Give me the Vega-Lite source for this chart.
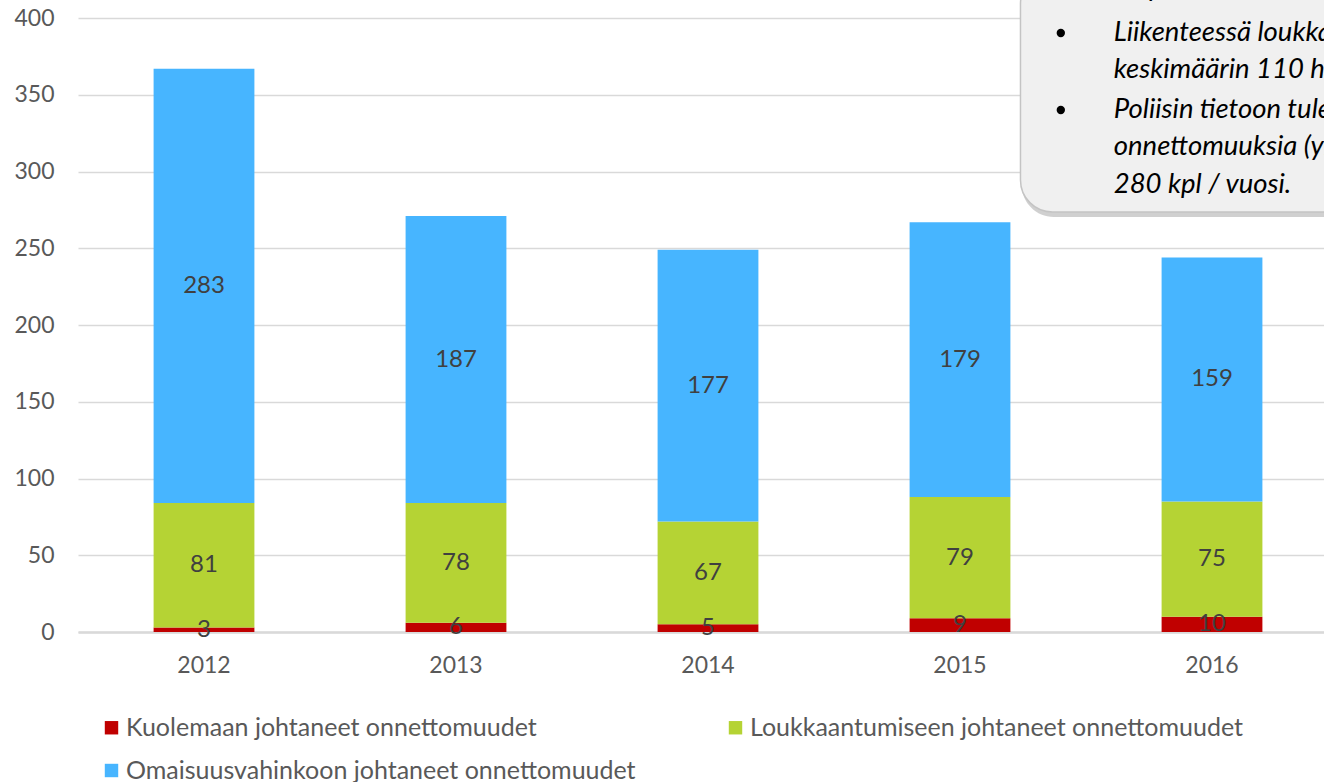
{
  "$schema": "https://vega.github.io/schema/vega-lite/v6.json",
  "autosize": "none",
  "width": 1260,
  "height": 614,
  "padding": {"left": 78, "top": 18, "right": 0, "bottom": 150},
  "background": "white",
  "config": {
    "font": "Lato",
    "view": {"stroke": null},
    "axis": {"labelFont": "Lato", "labelColor": "#595959", "labelFontSize": 23, "title": null}
  },
  "datasets": {
    "main": [
      {"year": "2012", "cat": "Kuolemaan johtaneet onnettomuudet", "v": 3},
      {"year": "2012", "cat": "Loukkaantumiseen johtaneet onnettomuudet", "v": 81},
      {"year": "2012", "cat": "Omaisuusvahinkoon johtaneet onnettomuudet", "v": 283},
      {"year": "2013", "cat": "Kuolemaan johtaneet onnettomuudet", "v": 6},
      {"year": "2013", "cat": "Loukkaantumiseen johtaneet onnettomuudet", "v": 78},
      {"year": "2013", "cat": "Omaisuusvahinkoon johtaneet onnettomuudet", "v": 187},
      {"year": "2014", "cat": "Kuolemaan johtaneet onnettomuudet", "v": 5},
      {"year": "2014", "cat": "Loukkaantumiseen johtaneet onnettomuudet", "v": 67},
      {"year": "2014", "cat": "Omaisuusvahinkoon johtaneet onnettomuudet", "v": 177},
      {"year": "2015", "cat": "Kuolemaan johtaneet onnettomuudet", "v": 9},
      {"year": "2015", "cat": "Loukkaantumiseen johtaneet onnettomuudet", "v": 79},
      {"year": "2015", "cat": "Omaisuusvahinkoon johtaneet onnettomuudet", "v": 179},
      {"year": "2016", "cat": "Kuolemaan johtaneet onnettomuudet", "v": 10},
      {"year": "2016", "cat": "Loukkaantumiseen johtaneet onnettomuudet", "v": 75},
      {"year": "2016", "cat": "Omaisuusvahinkoon johtaneet onnettomuudet", "v": 159}
    ],
    "box": [
      {"x": 2015.24, "x2": 2016.8, "y": 430, "y2": 273.6}
    ],
    "shadow": [
      {"x": 2015.245, "x2": 2016.8, "y": 430, "y2": 270.3}
    ],
    "bullets": [
      {"x": 2015.40, "y": 390.2},
      {"x": 2015.40, "y": 340.1}
    ],
    "lines": [
      {"x": 2015.61, "y": 419.5, "t": "7 kpl / vuosi."},
      {"x": 2015.61, "y": 390.2, "t": "Liikenteessä loukkaantuu"},
      {"x": 2015.61, "y": 366.1, "t": "keskimäärin 110 henkilöä / vuosi."},
      {"x": 2015.61, "y": 340.1, "t": "Poliisin tietoon tulee"},
      {"x": 2015.61, "y": 316.0, "t": "onnettomuuksia (yhteensä)"},
      {"x": 2015.61, "y": 291.2, "t": "280 kpl / vuosi."}
    ]
  },
  "layer": [
    {
      "data": {"name": "main"},
      "mark": {"type": "bar"},
      "encoding": {
        "x": {
          "field": "year", "type": "nominal",
          "scale": {"paddingInner": 0.6, "paddingOuter": 0.3},
          "axis": {"orient": "bottom", "labelAngle": 0, "ticks": false, "domain": true, "domainColor": "#D9D9D9", "domainWidth": 2.5, "labelPadding": 22, "grid": false}
        },
        "y": {
          "field": "v", "type": "quantitative", "stack": "zero",
          "scale": {"domain": [0, 400], "nice": false},
          "axis": {"values": [0, 50, 100, 150, 200, 250, 300, 350, 400], "domain": false, "ticks": false, "grid": true, "gridColor": "#D9D9D9", "gridWidth": 1.5, "labelPadding": 24}
        },
        "color": {
          "field": "cat", "type": "nominal",
          "scale": {
            "domain": ["Kuolemaan johtaneet onnettomuudet", "Omaisuusvahinkoon johtaneet onnettomuudet", "Loukkaantumiseen johtaneet onnettomuudet"],
            "range": ["#C00000", "#47B5FF", "#B5D334"]
          },
          "legend": {
            "title": null, "orient": "none", "legendX": 21, "legendY": 697,
            "columns": 2, "columnPadding": 87, "rowPadding": 17,
            "symbolType": "square", "symbolSize": 180, "symbolStrokeWidth": 0,
            "labelFont": "Lato", "labelFontSize": 25, "labelColor": "#595959", "labelLimit": 800, "labelOffset": 2
          }
        },
        "order": {"field": "cat", "sort": "ascending"}
      }
    },
    {
      "data": {"name": "main"},
      "transform": [
        {"stack": "v", "groupby": ["year"], "sort": [{"field": "cat", "order": "ascending"}], "as": ["v0", "v1"]},
        {"calculate": "(datum.v0 + datum.v1) / 2", "as": "mid"}
      ],
      "mark": {"type": "text", "fontSize": 24, "color": "#404040", "baseline": "middle", "font": "Lato"},
      "encoding": {
        "x": {"field": "year", "type": "nominal", "axis": null},
        "y": {"field": "mid", "type": "quantitative"},
        "text": {"field": "v", "type": "quantitative"}
      }
    },
    {
      "data": {"name": "shadow"},
      "mark": {"type": "rect", "cornerRadius": 32, "fill": "#B0B0B0", "opacity": 0.6},
      "encoding": {
        "x": {"field": "x", "type": "quantitative", "scale": {"domain": [2011.5, 2016.5], "nice": false, "zero": false}, "axis": null},
        "x2": {"field": "x2"},
        "y": {"field": "y", "type": "quantitative"},
        "y2": {"field": "y2"}
      }
    },
    {
      "data": {"name": "box"},
      "mark": {"type": "rect", "cornerRadius": 32, "fill": "#F0F0F0", "stroke": "#C4C4C4", "strokeWidth": 1.5},
      "encoding": {
        "x": {"field": "x", "type": "quantitative", "scale": {"domain": [2011.5, 2016.5], "nice": false, "zero": false}, "axis": null},
        "x2": {"field": "x2"},
        "y": {"field": "y", "type": "quantitative"},
        "y2": {"field": "y2"}
      }
    },
    {
      "data": {"name": "bullets"},
      "mark": {"type": "point", "shape": "circle", "filled": true, "color": "black", "size": 70, "opacity": 1},
      "encoding": {
        "x": {"field": "x", "type": "quantitative", "scale": {"domain": [2011.5, 2016.5], "nice": false, "zero": false}, "axis": null},
        "y": {"field": "y", "type": "quantitative"}
      }
    },
    {
      "data": {"name": "lines"},
      "mark": {"type": "text", "align": "left", "baseline": "middle", "fontStyle": "italic", "fontSize": 27.5, "color": "black", "font": "Lato"},
      "encoding": {
        "x": {"field": "x", "type": "quantitative", "scale": {"domain": [2011.5, 2016.5], "nice": false, "zero": false}, "axis": null},
        "y": {"field": "y", "type": "quantitative"},
        "text": {"field": "t", "type": "nominal"}
      }
    }
  ],
  "resolve": {"scale": {"x": "independent"}, "axis": {"x": "independent"}}
}
